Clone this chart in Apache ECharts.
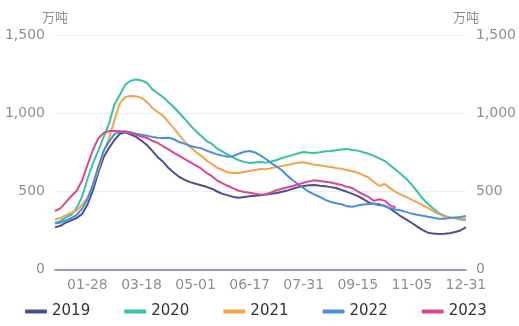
<!DOCTYPE html>
<html>
<head>
<meta charset="utf-8">
<script src="https://cdn.jsdelivr.net/npm/echarts@6/dist/echarts.min.js"></script>
<style>
  html, body { margin: 0; padding: 0; background: #fff; }
  #chart { width: 519px; height: 326px; }
</style>
</head>
<body>
<div id="chart"></div>
<script>
// Sampled dates of the year (MM-DD)
const categories = [
  '01-01','01-06','01-10','01-15','01-19','01-24','01-28',
  '02-02','02-07','02-12','02-17','02-22','02-27','03-03','03-08','03-13','03-18',
  '03-22','03-27','03-31','04-04','04-09','04-13','04-18','04-22','04-26','05-01',
  '05-06','05-10','05-15','05-20','05-24','05-29','06-03','06-08','06-12','06-17',
  '06-21','06-26','06-30','07-04','07-09','07-13','07-18','07-22','07-26','07-31',
  '08-05','08-09','08-14','08-19','08-23','08-28','09-01','09-06','09-10','09-15',
  '09-20','09-25','09-30','10-05','10-10','10-16','10-21','10-26','10-31','11-05',
  '11-10','11-16','11-21','11-27','12-03','12-08','12-14','12-20','12-25','12-31'
];

// Dates shown on the horizontal axis
const tickLabels = ['01-28','03-18','05-01','06-17','07-31','09-15','11-05','12-31'];

// Value axis ticks (万吨)
const valueTicks = [0, 500, 1000, 1500];

const years = ['2019','2020','2021','2022','2023'];

const s2019 = [
  270,280,300,315,330,355,415,
  505,620,720,780,830,870,880,865,850,825,
  798,760,720,690,650,620,593,575,560,550,
  540,530,518,500,485,475,465,460,465,470,
  472,476,480,485,490,498,507,518,528,536,
  540,542,537,533,528,522,510,498,485,470,
  452,430,420,413,408,390,365,340,320,298,
  275,252,236,230,227,229,233,240,250,272
];

const s2020 = [
  300,310,335,350,395,465,580,
  680,760,850,935,1060,1120,1185,1210,1218,1212,
  1196,1155,1130,1105,1072,1040,1003,965,925,890,
  858,825,805,775,755,735,718,700,690,683,
  686,689,685,692,702,715,725,735,745,753,
  748,747,752,758,760,764,770,772,766,762,
  752,742,728,712,695,668,640,610,580,542,
  500,455,420,390,362,345,333,328,320,317
];

const s2021 = [
  320,330,348,362,378,415,460,
  540,640,760,840,958,1067,1106,1112,1110,1100,
  1074,1035,1010,985,945,905,862,820,785,755,
  730,700,675,652,638,622,618,619,625,632,
  638,644,642,650,657,663,670,678,685,688,
  680,672,668,662,657,650,645,638,630,620,
  605,590,560,535,548,520,498,480,465,446,
  430,412,395,372,355,340,333,330,327,324
];

const s2022 = [
  295,300,315,330,349,390,450,
  545,660,760,820,868,882,887,880,870,864,
  858,850,845,843,844,835,817,805,792,784,
  778,762,750,738,730,722,728,742,755,760,
  750,732,708,682,660,635,600,572,545,522,
  497,480,465,446,433,425,418,405,402,410,
  416,420,422,420,405,393,385,378,368,358,
  351,345,338,332,325,326,330,334,337,343
];

const s2023 = [
  375,392,430,470,505,570,670,
  766,840,876,888,888,886,882,874,864,853,
  843,825,812,790,770,748,728,708,688,668,
  648,620,598,570,552,535,520,505,497,492,
  486,480,484,494,508,518,527,535,546,556,
  565,572,568,563,558,550,542,530,522,500,
  482,465,440,450,440,410,398
];

const colors = ['#4b5091', '#35c3a6', '#f5a24f', '#4a90d6', '#de468d'];
const seriesValues = [s2019, s2020, s2021, s2022, s2023];

const labelStyle = { color: '#8f8f8f', fontSize: 14, fontFamily: 'DejaVu Sans' };

const valueAxis = (pos, showSplit) => ({
  type: 'value',
  position: pos,
  min: valueTicks[0],
  max: valueTicks[valueTicks.length - 1],
  interval: valueTicks[1] - valueTicks[0],
  name: '万吨',
  nameLocation: 'end',
  nameGap: 12,
  nameTextStyle: { color: '#8f8f8f', fontSize: 13, fontFamily: 'Noto Sans CJK SC', align: 'center' },
  axisLine: { show: false },
  axisTick: { show: false },
  axisLabel: {
    ...labelStyle,
    margin: 10,
    formatter: v => v.toLocaleString('en-US')
  },
  splitLine: { show: showSplit, lineStyle: { color: '#eceef5', width: 1 } }
});

const chart = echarts.init(document.getElementById('chart'), null, { renderer: 'canvas' });

chart.setOption({
  animation: false,
  color: colors,
  grid: { left: 55, right: 52, top: 35.5, bottom: 56.5, containLabel: false },
  legend: {
    data: years,
    left: 20,
    bottom: 2,
    icon: 'roundRect',
    itemWidth: 22,
    itemHeight: 4,
    itemGap: 34,
    textStyle: { color: '#333', fontSize: 15, fontFamily: 'DejaVu Sans' }
  },
  xAxis: {
    type: 'category',
    data: categories,
    boundaryGap: false,
    axisLine: { show: true, lineStyle: { color: '#7d7f9c', width: 1.5 } },
    axisTick: { show: false },
    axisLabel: {
      ...labelStyle,
      margin: 9,
      interval: (idx, val) => tickLabels.includes(val)
    },
    splitLine: { show: false }
  },
  yAxis: [valueAxis('left', true), valueAxis('right', false)],
  series: years.map((y, i) => ({
    name: y,
    type: 'line',
    data: seriesValues[i],
    showSymbol: false,
    symbol: 'none',
    lineStyle: { width: 2, color: colors[i] },
    itemStyle: { color: colors[i] },
    z: 2 + i
  }))
});
</script>
</body>
</html>
